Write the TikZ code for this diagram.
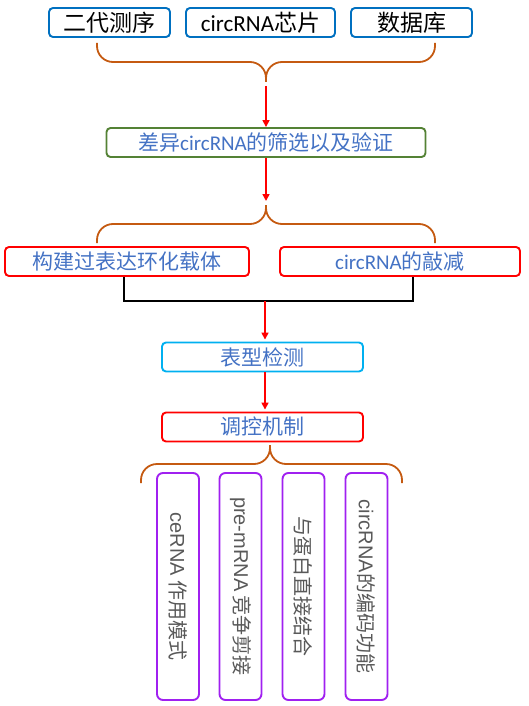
\documentclass[tikz,border=0pt]{standalone}
\usepackage{fontspec}
\setmainfont{Carlito}
\newfontfamily\cjkfont{Noto Sans CJK SC}
\newfontfamily\arialfont{Liberation Sans}
\usetikzlibrary{arrows.meta}
\definecolor{topblue}{RGB}{0,112,192}
\definecolor{selgreen}{RGB}{84,130,53}
\definecolor{phcyan}{RGB}{0,176,240}
\definecolor{waypurple}{RGB}{160,32,240}
\definecolor{braceorange}{RGB}{197,90,17}
\definecolor{txtblue}{RGB}{68,114,196}
\definecolor{txtgray}{RGB}{89,89,89}
\newcommand\zh[1]{{\cjkfont #1}}

\begin{document}
\begin{tikzpicture}[x=1pt, y=-1pt,
  srcbox/.style={draw=topblue, line width=1.9pt, rounded corners=4pt,
    minimum height=29pt, inner sep=0pt, font=\fontsize{23}{25}\selectfont},
  stepbox/.style={draw, line width=1.9pt, rounded corners=4pt,
    minimum height=29pt, inner sep=0pt, text=txtblue, font=\fontsize{21}{23}\selectfont},
  waybox/.style={draw=waypurple, line width=1.9pt, rounded corners=6pt, rotate=-90,
    minimum width=227pt, minimum height=42pt, inner sep=0pt,
    text=txtgray, font=\fontsize{20}{22}\selectfont},
  bracepath/.style={draw=braceorange, line width=1.8pt, rounded corners=16pt},
  flow/.style={draw=red, line width=1.6pt, -{Triangle[length=7pt,width=7pt]}},
  joinline/.style={draw=black, line width=1.9pt}]

\useasboundingbox (0,0) rectangle (528,706);

% data sources
\node[srcbox, minimum width=121pt] (seq) at (109.5,22.5) {\zh{二代测序}};
\node[srcbox, minimum width=149pt] (chip) at (260.5,22.5) {circRNA\zh{芯片}};
\node[srcbox, minimum width=121pt] (db) at (411.5,22.5) {\zh{数据库}};

\draw[bracepath] (97,43) |- (266,62) -- (266,82);
\draw[bracepath] (435,43) |- (266,62) -- (266,82);
\coordinate (tip1) at (266,82);

% screening
\node[stepbox, draw=selgreen, minimum width=319pt] (sel) at (266,142.5)
  {\zh{差异}circRNA\zh{的筛选以及验证}};
\draw[flow, shorten <=4pt] (tip1) -- (sel.north);

\coordinate (tip2) at (266,205);
\draw[flow, shorten >=4pt] (sel.south) -- (tip2);
\draw[bracepath] (97,243) |- (266,224) -- (tip2);
\draw[bracepath] (435,243) |- (266,224) -- (tip2);

% over-expression and knock-down
\node[stepbox, draw=red, minimum width=244pt] (over) at (127,261.5) {\zh{构建过表达环化载体}};
\node[stepbox, draw=red, minimum width=240pt] (knock) at (400,261.5) {circRNA\zh{的敲减}};

\coordinate (join) at (265,301);
\draw[joinline] ([xshift=-3pt]over.south) |- (join) -| ([xshift=13pt]knock.south);

% phenotype and mechanism
\node[stepbox, draw=phcyan, minimum width=201pt] (pheno) at (262.5,357) {\zh{表型检测}};
\node[stepbox, draw=red, minimum width=201pt] (mech) at (262.5,427) {\zh{调控机制}};
\draw[flow, shorten >=2pt] (join) -- (join |- pheno.north);
\draw[flow, shorten >=2pt] (pheno.south -| join) -- (mech.north -| join);

\coordinate (tip3) at (270,445);
\draw[bracepath] (141,483) |- (270,464) -- (tip3);
\draw[bracepath] (402,483) |- (270,464) -- (tip3);

% mechanisms
\node[waybox] (cerna) at (178,586.5) {{\arialfont ceRNA} \zh{作用模式}};
\node[waybox] (splice) at (240.5,586.5) {{\arialfont pre-mRNA} \zh{竞争剪接}};
\node[waybox] (protein) at (303.5,586.5) {\zh{与蛋白直接结合}};
\node[waybox] (coding) at (366.5,586.5) {{\arialfont circRNA}\zh{的编码功能}};
\end{tikzpicture}
\end{document}
